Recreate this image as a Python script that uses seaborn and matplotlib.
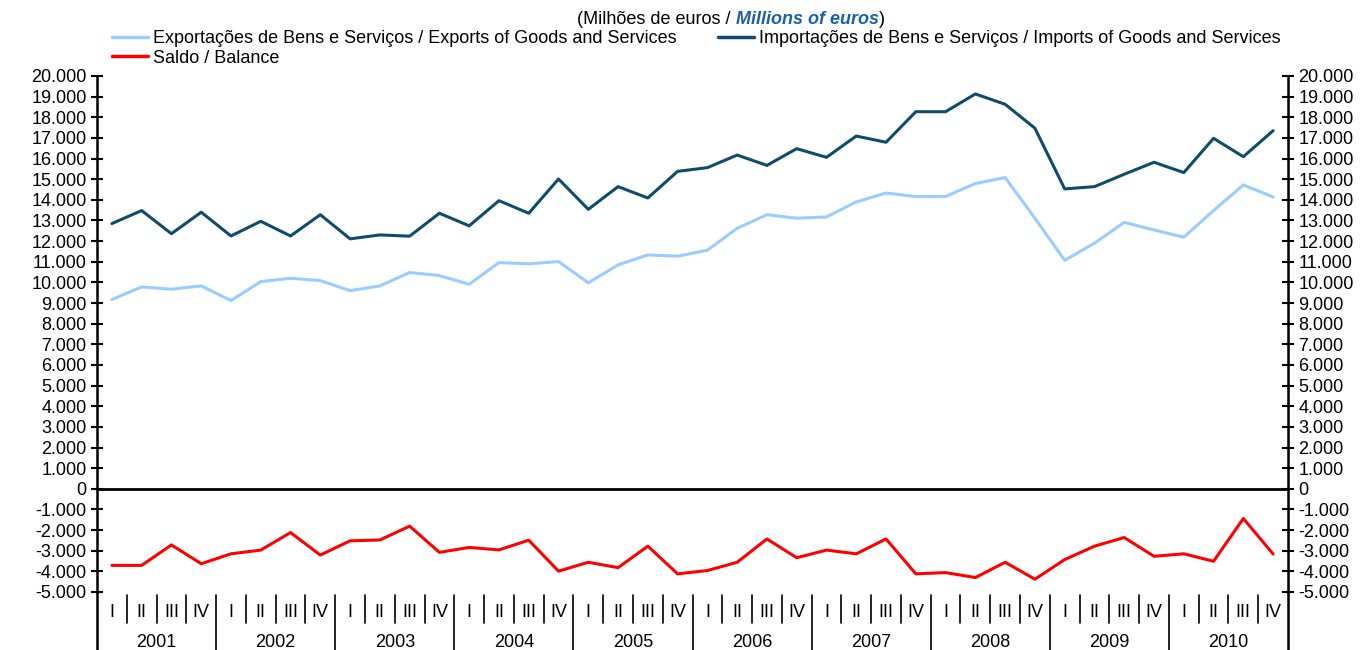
import numpy as np
import pandas as pd
import matplotlib.pyplot as plt
import matplotlib.transforms as mtransforms
from matplotlib.lines import Line2D
import seaborn as sns

###############################################################################
# Dados (milhões de euros), trimestrais 2001-2010
###############################################################################
anos = ['2001', '2002', '2003', '2004', '2005',
        '2006', '2007', '2008', '2009', '2010']
trimestres = ['I', 'II', 'III', 'IV']

exportacoes = [9170, 9780, 9670, 9830,
               9120, 10040, 10200, 10090,
               9600, 9830, 10480, 10330,
               9910, 10960, 10900, 11010,
               9980, 10850, 11330, 11270,
               11560, 12620, 13280, 13110,
               13170, 13900, 14330, 14160,
               14160, 14790, 15080, 13110,
               11070, 11900, 12910, 12540,
               12190, 13480, 14720, 14140]

importacoes = [12850, 13480, 12360, 13400,
               12250, 12960, 12250, 13280,
               12110, 12300, 12240, 13350,
               12740, 13960, 13350, 15010,
               13540, 14640, 14090, 15380,
               15560, 16170, 15670, 16480,
               16060, 17090, 16790, 18270,
               18270, 19130, 18630, 17470,
               14530, 14640, 15240, 15820,
               15320, 16980, 16090, 17350]

saldo = [-3710, -3710, -2720, -3630,
         -3150, -2970, -2120, -3210,
         -2520, -2480, -1810, -3080,
         -2840, -2960, -2490, -3990,
         -3560, -3820, -2780, -4120,
         -3960, -3560, -2430, -3340,
         -2970, -3150, -2430, -4120,
         -4060, -4300, -3560, -4380,
         -3430, -2780, -2360, -3270,
         -3150, -3510, -1440, -3160]

lbl_exp = 'Exportações de Bens e Serviços / Exports of Goods and Services'
lbl_imp = 'Importações de Bens e Serviços / Imports of Goods and Services'
lbl_sal = 'Saldo / Balance'

cores = {lbl_exp: '#99CCFF', lbl_imp: '#0E4C6B', lbl_sal: '#FF0000'}

n = len(anos) * len(trimestres)
df = pd.DataFrame({'t': np.arange(n),
                   lbl_exp: exportacoes,
                   lbl_imp: importacoes,
                   lbl_sal: saldo})
df_long = df.melt(id_vars='t', var_name='serie', value_name='valor')

###############################################################################
# Figura
###############################################################################
sns.set_style('white')
plt.rcParams['font.family'] = ['Liberation Sans', 'DejaVu Sans']
plt.rcParams['text.color'] = 'black'
fs = 13

fig = plt.figure(figsize=(13.62, 6.5), dpi=100)
ax = fig.add_axes([97 / 1362, 1 - 592 / 650, 1191 / 1362, 516 / 650])

sns.lineplot(data=df_long, x='t', y='valor', hue='serie', palette=cores,
             linewidth=2.2, legend=False, ax=ax)

ax.set_xlim(-0.5, n - 0.5)
ax.set_ylim(-5000, 20000)
ax.set_xlabel('')
ax.set_ylabel('')

# eixo dos y (ambos os lados)
yt = np.arange(-5000, 20001, 1000)
ax.set_yticks(yt)
ax.set_yticklabels([f'{v:,.0f}'.replace(',', '.') for v in yt])
ax.yaxis.set_ticks_position('both')
ax.tick_params(axis='y', which='both', direction='inout', length=9, width=1.5,
               labelsize=fs, labelright=True, pad=3, colors='black')

# eixo dos x na linha do zero
ax.spines['top'].set_visible(False)
ax.spines['bottom'].set_position(('data', 0))
ax.spines['bottom'].set_linewidth(2)
ax.spines['bottom'].set_color('black')
for s in ['left', 'right']:
    ax.spines[s].set_linewidth(1.8)
    ax.spines[s].set_color('black')
ax.set_xticks(np.arange(0.5, n - 1, 1))
ax.tick_params(axis='x', direction='out', length=4, width=1.2,
               labelbottom=False, colors='black')

# rótulos de trimestres e anos
trans = mtransforms.blended_transform_factory(ax.transData, ax.transAxes)
for i in range(n):
    ax.text(i, -0.039, trimestres[i % 4], transform=trans, ha='center',
            va='center', fontsize=fs, color='black', clip_on=False)
for i in range(1, n):
    y_fim = -0.1124 if i % 4 == 0 else -0.060
    ax.plot([i - 0.5, i - 0.5], [-0.006, y_fim], transform=trans,
            color='black', lw=1.2, clip_on=False)
for j, ano in enumerate(anos):
    ax.text(j * 4 + 1.5, -0.098, ano, transform=trans, ha='center',
            va='center', fontsize=fs, color='black', clip_on=False)
for xa in [0, 1]:
    ax.plot([xa, xa], [0, -0.1124], transform=ax.transAxes, color='black',
            lw=1.8, clip_on=False)

# legenda
h = {k: Line2D([], [], color=c, lw=2.5) for k, c in cores.items()}
kw = dict(loc='upper left', frameon=False, fontsize=fs, borderpad=0,
          borderaxespad=0, handlelength=2.0, handletextpad=0.25,
          labelspacing=0.15, labelcolor='black')
fig.legend([h[lbl_exp], h[lbl_sal]], [lbl_exp, lbl_sal],
           bbox_to_anchor=(112 / 1362, 1 - 30 / 650), **kw)
fig.legend([h[lbl_imp]], [lbl_imp],
           bbox_to_anchor=(718 / 1362, 1 - 30 / 650), **kw)

# título
r = fig.canvas.get_renderer()
partes = [fig.text(0, 1 - 19 / 650, '(Milhões de euros / ', fontsize=fs,
                   va='center', color='black'),
          fig.text(0, 1 - 19 / 650, 'Millions of euros', fontsize=fs,
                   va='center', fontweight='bold', style='italic',
                   color='#1A62A8'),
          fig.text(0, 1 - 19 / 650, ')', fontsize=fs, va='center',
                   color='black')]
larg = [p.get_window_extent(r).width for p in partes]
x0 = 731 - sum(larg) / 2
for p, w in zip(partes, larg):
    p.set_x(x0 / 1362)
    x0 += w

fig.savefig('out.png', dpi=100)
